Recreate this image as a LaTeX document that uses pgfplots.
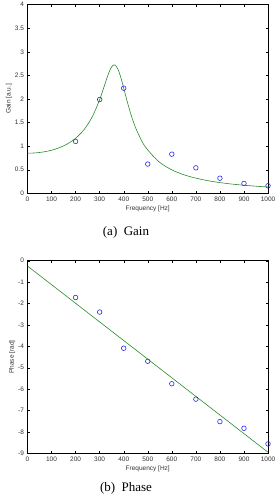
\documentclass[border=0pt]{standalone}
\usepackage{fontspec}
\setmainfont{Liberation Serif}
\setsansfont{Liberation Sans}
\usepackage{pgfplots}
\pgfplotsset{compat=1.18}

\definecolor{fitgreen}{RGB}{40,140,40}
\definecolor{measblue}{RGB}{40,40,235}

\pgfplotsset{
  matlab/.style={
    scale only axis,
    width=240.5pt,
    xmin=0, xmax=1000,
    xtick={0,100,...,1000},
    tick align=inside,
    major tick length=2.5pt,
    axis line style={line width=0.5pt},
    every tick/.style={black, line width=0.4pt},
    /pgf/number format/assume math mode=true,
    /pgf/number format/1000 sep={},
    every tick label/.append style={font=\sffamily\fontsize{6.5}{7}\selectfont, text=black!80},
    label style={font=\sffamily\fontsize{6.5}{7}\selectfont, text=black!80},
    xlabel={Frequency [Hz]},
    xticklabel style={yshift=-0.5pt},
    xlabel style={yshift=3pt},
    ylabel style={yshift=-4pt},
    clip=true,
  },
  meas/.style={only marks, mark=o, mark size=2.3pt, color=measblue,
    mark options={draw=measblue, fill=none, line width=0.6pt}},
  fit/.style={no markers, fitgreen, line width=0.6pt, smooth},
}

\begin{document}
\begin{tikzpicture}
% Gain: second-order resonance fit and measured points
\begin{axis}[matlab, at={(27.5pt,301.7pt)}, anchor=south west,
  height=188.6pt, ymin=0, ymax=4, ytick={0,0.5,...,4},
  ylabel={Gain [a.u.]}]
\addplot[fit] coordinates {
 (0,0.850) (24.7,0.854) (49.3,0.865) (74,0.884) (98.7,0.911) (123.3,0.950)
 (148,1.001) (172.7,1.068) (197.3,1.156) (222,1.273) (246.7,1.431)
 (271.3,1.644) (296,1.932) (305.9,2.071) (315.7,2.220) (325.6,2.374)
 (335.5,2.520) (345.3,2.641) (355.2,2.713) (360.1,2.724) (365.1,2.716)
 (374.9,2.645) (384.8,2.510) (394.7,2.334) (404.5,2.142) (414.4,1.950)
 (424.3,1.771) (434.1,1.608) (444,1.463) (453.9,1.336) (473.6,1.125)
 (493.3,0.961) (542.7,0.685) (592,0.518) (641.3,0.409) (690.7,0.333)
 (740,0.277) (789.3,0.235) (838.7,0.202) (888,0.176) (937.3,0.155)
 (986.7,0.138) (1000,0.134)
};
\addplot[meas] coordinates {
 (200,1.10) (300,1.99) (400,2.23) (500,0.62) (600,0.83)
 (700,0.54) (800,0.32) (900,0.21) (1000,0.16)
};
\end{axis}

% Phase: linear fit and measured points
\begin{axis}[matlab, at={(27.5pt,41.7pt)}, anchor=south west,
  height=192.6pt, ymin=-9, ymax=0, ytick={-9,-8,...,0},
  ylabel={Phase [rad]}]
\addplot[fit, sharp plot] coordinates {(0,-0.25) (1000,-8.95)};
\addplot[meas] coordinates {
 (200,-1.72) (300,-2.40) (400,-4.09) (500,-4.70) (600,-5.75)
 (700,-6.47) (800,-7.52) (900,-7.83) (1000,-8.56)
};
\end{axis}

\node[font=\fontsize{13}{15}\selectfont, anchor=base] at (126pt,259pt) {(a)\ \ Gain};
\node[font=\fontsize{13}{15}\selectfont, anchor=base] at (126pt,3.6pt) {(b)\ \ Phase};

\pgfresetboundingbox
\useasboundingbox (0pt,0pt) rectangle (275pt,495pt);
\end{tikzpicture}
\end{document}
